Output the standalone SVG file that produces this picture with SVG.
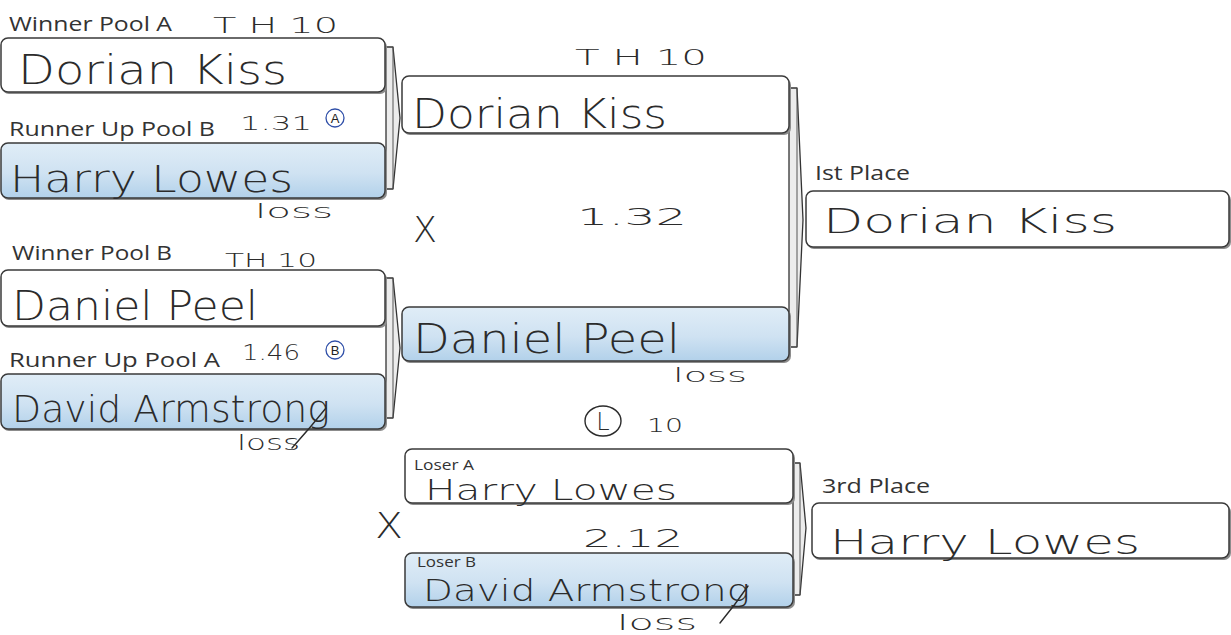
<svg xmlns="http://www.w3.org/2000/svg" width="1231" height="635" viewBox="0 0 1231 635">
<defs>
<linearGradient id="blueGrad" x1="0" y1="0" x2="0" y2="1">
<stop offset="0" stop-color="#e0edf7"/>
<stop offset="0.55" stop-color="#cfe2f2"/>
<stop offset="1" stop-color="#b2d1ea"/>
</linearGradient>
<style>
.shadow{fill:#8c8c8c}
.box{fill:#ffffff;stroke:#3a3a3a;stroke-width:1.5}
.blue{fill:url(#blueGrad)}
.bracket{fill:#ececec;stroke:#333;stroke-width:1.3;stroke-linejoin:round}
.inner{fill:none;stroke:#555;stroke-width:1}
.label{font-family:"Open Sans","Liberation Sans",sans-serif;fill:#333;font-size:20px}
.small{font-family:"Open Sans","Liberation Sans",sans-serif;fill:#333;font-size:14px}
.circ-letter{font-family:"Liberation Sans",sans-serif;fill:#222;font-size:13px}
.hand{font-family:"DejaVu Sans",sans-serif;font-weight:200;fill:#2b2b2b}
.pen{fill:none;stroke:#2b2b2b;stroke-width:1.4;stroke-linecap:round}
.circA{fill:#fff;stroke:#2f4fa8;stroke-width:1.3}
</style>
</defs>
<rect width="1231" height="635" fill="#ffffff"/>

<g id="connectors">
<path class="bracket" d="M386,47 H393 L400,118 L393,189 H386 Z"/>
<path class="inner" d="M393,47 V189"/>
<path class="bracket" d="M386,278 H393 L400,348 L393,418 H386 Z"/>
<path class="inner" d="M393,278 V418"/>
<path class="bracket" d="M789,88 H797 L803,220 L797,347 H789 Z"/>
<path class="inner" d="M797,88 V347"/>
<path class="bracket" d="M793,463 H800 L806,528 L800,595 H793 Z"/>
<path class="inner" d="M800,463 V595"/>
</g>

<g id="winner-pool-a">
<text class="label" x="9" y="31" textLength="163" lengthAdjust="spacingAndGlyphs">Winner Pool A</text>
<rect class="shadow" x="2" y="40" width="385" height="54" rx="7"/>
<rect class="box" x="1" y="38" width="384" height="54" rx="7"/>
<text class="hand" x="18" y="84" font-size="40" textLength="269" lengthAdjust="spacingAndGlyphs">Dorian Kiss</text>
</g>

<g id="runner-up-pool-b">
<text class="label" x="9" y="136" textLength="206" lengthAdjust="spacingAndGlyphs">Runner Up Pool B</text>
<rect class="shadow" x="2" y="145" width="385" height="55" rx="7"/>
<rect class="box blue" x="1" y="143" width="384" height="55" rx="7"/>
<text class="hand" x="10" y="192" font-size="38" textLength="283" lengthAdjust="spacingAndGlyphs">Harry Lowes</text>
</g>

<g id="winner-pool-b">
<text class="label" x="12" y="260" textLength="160" lengthAdjust="spacingAndGlyphs">Winner Pool B</text>
<rect class="shadow" x="2" y="272" width="385" height="56" rx="7"/>
<rect class="box" x="1" y="270" width="384" height="56" rx="7"/>
<text class="hand" x="12" y="320" font-size="40" textLength="246" lengthAdjust="spacingAndGlyphs">Daniel Peel</text>
</g>

<g id="runner-up-pool-a">
<text class="label" x="9" y="367" textLength="211" lengthAdjust="spacingAndGlyphs">Runner Up Pool A</text>
<rect class="shadow" x="2" y="376" width="385" height="55" rx="7"/>
<rect class="box blue" x="1" y="374" width="384" height="55" rx="7"/>
<text class="hand" x="12" y="422" font-size="38" textLength="318" lengthAdjust="spacingAndGlyphs">David Armstrong</text>
</g>

<g id="semi-top">
<rect class="shadow" x="403" y="78" width="388" height="57" rx="7"/>
<rect class="box" x="402" y="76" width="387" height="57" rx="7"/>
<text class="hand" x="412" y="128" font-size="40" textLength="255" lengthAdjust="spacingAndGlyphs">Dorian Kiss</text>
</g>

<g id="semi-bottom">
<rect class="shadow" x="403" y="309" width="388" height="54" rx="7"/>
<rect class="box blue" x="402" y="307" width="387" height="54" rx="7"/>
<text class="hand" x="413" y="353" font-size="40" textLength="267" lengthAdjust="spacingAndGlyphs">Daniel Peel</text>
</g>

<g id="loser-a">
<rect class="shadow" x="406" y="451" width="389" height="54" rx="7"/>
<rect class="box" x="405" y="449" width="388" height="54" rx="7"/>
<text class="small" x="414" y="470" textLength="60" lengthAdjust="spacingAndGlyphs">Loser A</text>
<text class="hand" x="425" y="500" font-size="29" textLength="252" lengthAdjust="spacingAndGlyphs">Harry Lowes</text>
</g>

<g id="loser-b">
<rect class="shadow" x="406" y="555" width="389" height="54" rx="7"/>
<rect class="box blue" x="405" y="553" width="388" height="54" rx="7"/>
<text class="small" x="417" y="567" textLength="59" lengthAdjust="spacingAndGlyphs">Loser B</text>
<text class="hand" x="423" y="601" font-size="30" textLength="327" lengthAdjust="spacingAndGlyphs">David Armstrong</text>
</g>

<g id="first-place">
<text class="label" x="815" y="180" textLength="95" lengthAdjust="spacingAndGlyphs">Ist Place</text>
<rect class="shadow" x="807" y="193" width="424" height="56" rx="7"/>
<rect class="box" x="806" y="191" width="423" height="56" rx="7"/>
<text class="hand" x="823" y="233" font-size="34" textLength="294" lengthAdjust="spacingAndGlyphs">Dorian Kiss</text>
</g>

<g id="third-place">
<text class="label" x="822" y="493" textLength="108" lengthAdjust="spacingAndGlyphs">3rd Place</text>
<rect class="shadow" x="813" y="505" width="418" height="55" rx="7"/>
<rect class="box" x="812" y="503" width="417" height="55" rx="7"/>
<text class="hand" x="830" y="554" font-size="34" textLength="310" lengthAdjust="spacingAndGlyphs">Harry Lowes</text>
</g>

<g id="annotations">
<text class="hand" x="213" y="33" font-size="22" textLength="125" lengthAdjust="spacingAndGlyphs">T H 10</text>
<text class="hand" x="240" y="130" font-size="19" textLength="72" lengthAdjust="spacingAndGlyphs">1.31</text>
<circle class="circA" cx="335" cy="118" r="9"/>
<text class="circ-letter" x="335" y="122.5" text-anchor="middle">A</text>
<text class="hand" x="255" y="218" font-size="19" textLength="78" lengthAdjust="spacingAndGlyphs">loss</text>
<text class="hand" x="225" y="267" font-size="20" textLength="92" lengthAdjust="spacingAndGlyphs">TH 10</text>
<text class="hand" x="242" y="360" font-size="21" textLength="58" lengthAdjust="spacingAndGlyphs">1.46</text>
<circle class="circA" cx="335" cy="350" r="9"/>
<text class="circ-letter" x="335" y="354.5" text-anchor="middle">B</text>
<text class="hand" x="237" y="450" font-size="21" textLength="63" lengthAdjust="spacingAndGlyphs">loss</text>
<path class="pen" d="M326,408 Q310,428 292,448"/>
<text class="hand" x="575" y="65" font-size="21" textLength="132" lengthAdjust="spacingAndGlyphs">T H 10</text>
<text class="hand" x="413" y="242" font-size="36" textLength="24" lengthAdjust="spacingAndGlyphs">X</text>
<text class="hand" x="577" y="225" font-size="23" textLength="110" lengthAdjust="spacingAndGlyphs">1.32</text>
<text class="hand" x="673" y="382" font-size="19" textLength="74" lengthAdjust="spacingAndGlyphs">loss</text>
<ellipse cx="603" cy="421" rx="18" ry="15" fill="none" stroke="#2b2b2b" stroke-width="1.4"/>
<text class="hand" x="603" y="430" font-size="24" text-anchor="middle">L</text>
<text class="hand" x="647" y="432" font-size="19" textLength="36" lengthAdjust="spacingAndGlyphs">10</text>
<text class="hand" x="375" y="538" font-size="36" textLength="28" lengthAdjust="spacingAndGlyphs">X</text>
<text class="hand" x="583" y="547" font-size="25" textLength="100" lengthAdjust="spacingAndGlyphs">2.12</text>
<text class="hand" x="617" y="630" font-size="21" textLength="80" lengthAdjust="spacingAndGlyphs">loss</text>
<path class="pen" d="M748,586 Q735,605 720,623"/>
</g>
</svg>
